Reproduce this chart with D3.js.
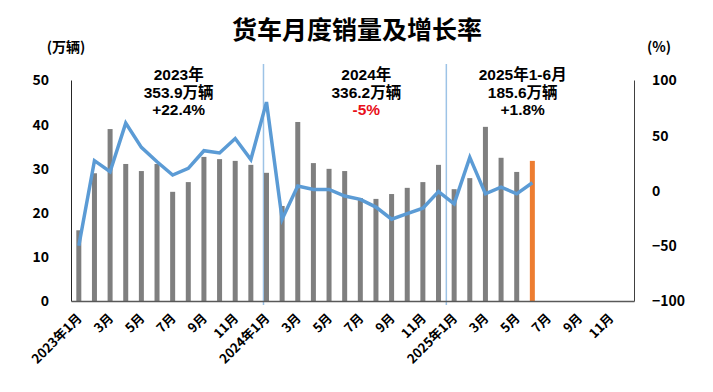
<!DOCTYPE html>
<html>
<head>
<meta charset="utf-8">
<script src="https://cdn.jsdelivr.net/npm/d3@7"></script>
<style>
  html, body { margin: 0; padding: 0; background: #fff; }
  svg text { font-family: "Noto Sans CJK SC", "Noto Sans", sans-serif; font-weight: bold; fill: #000; }
  svg text.note { font-family: "Liberation Sans", "Noto Sans CJK SC", sans-serif; }
</style>
</head>
<body>
<svg id="chart" width="713" height="392"></svg>
<script>
// ---- data ----
const categories = [
  "2023-01","2023-02","2023-03","2023-04","2023-05","2023-06","2023-07","2023-08","2023-09","2023-10","2023-11","2023-12",
  "2024-01","2024-02","2024-03","2024-04","2024-05","2024-06","2024-07","2024-08","2024-09","2024-10","2024-11","2024-12",
  "2025-01","2025-02","2025-03","2025-04","2025-05","2025-06","2025-07","2025-08","2025-09","2025-10","2025-11","2025-12"
];
const tickLabels = [
  "2023年1月","","3月","","5月","","7月","","9月","","11月","",
  "2024年1月","","3月","","5月","","7月","","9月","","11月","",
  "2025年1月","","3月","","5月","","7月","","9月","","11月",""
];
// monthly truck sales (万辆)
const salesValues = [
  16.0, 28.9, 38.9, 31.0, 29.4, 31.0, 24.7, 26.9, 32.6, 32.1, 31.7, 30.8,
  29.0, 21.5, 40.5, 31.2, 29.9, 29.4, 23.3, 23.1, 24.2, 25.6, 26.9, 30.8,
  25.3, 27.8, 39.4, 32.4, 29.2, 31.7
];
// year-on-year growth (%)
const growthValues = [
  -50, 27, 17, 61, 39, 26, 14, 20, 36, 34, 47, 28,
  80, -26, 4, 1, 1, -5, -8, -15, -26, -21, -16, -1,
  -12, 30, -3, 3, -3, 7
];
const leftTicks = [0, 10, 20, 30, 40, 50];
const rightTicks = [-100, -50, 0, 50, 100];
const highlightCategory = "2025-06";
const separatorCategories = ["2024-01", "2025-01"];
const annotations = [
  { anchor: "2023-07", lines: ["2023年", "353.9万辆", "+22.4%"], colors: ["#000", "#000", "#000"] },
  { anchor: "2024-07", lines: ["2024年", "336.2万辆", "-5%"], colors: ["#000", "#000", "#E8101A"] },
  { anchor: "2025-05", lines: ["2025年1-6月", "185.6万辆", "+1.8%"], colors: ["#000", "#000", "#000"] }
];

// ---- layout ----
const svg = d3.select("#chart");
const plot = { left: 71, right: 634, top: 80, bottom: 301 };

const x = d3.scaleBand().domain(categories).range([plot.left, plot.right]).paddingInner(0).paddingOuter(0);
const yL = d3.scaleLinear().domain([0, 50]).range([plot.bottom, plot.top]);
const yR = d3.scaleLinear().domain([-100, 100]).range([plot.bottom, plot.top]);
const barW = 5;
const cx = c => x(c) + x.bandwidth() / 2;

// title
svg.append("text").attr("x", 357).attr("y", 39).attr("text-anchor", "middle")
  .style("font-size", "25px").text("货车月度销量及增长率");

// unit labels
svg.append("text").attr("x", 66).attr("y", 52).attr("text-anchor", "middle")
  .style("font-size", "14px").text("(万辆)");
svg.append("text").attr("x", 659).attr("y", 52).attr("text-anchor", "middle")
  .style("font-size", "14px").text("(%)");

// separators
separatorCategories.forEach((c, i) => {
  const sx = i === 0 ? cx(c) - 3 : x(c);
  svg.append("line").attr("x1", sx).attr("x2", sx).attr("y1", 64).attr("y2", 305)
    .attr("stroke", "#9DC3E6").attr("stroke-width", 1.5);
});

// bars
const barData = salesValues.map((v, i) => ({ c: categories[i], v }));
svg.append("g").selectAll("rect").data(barData).join("rect")
  .attr("x", d => cx(d.c) - barW / 2)
  .attr("width", barW)
  .attr("y", d => yL(d.v))
  .attr("height", d => yL(0) - yL(d.v))
  .attr("fill", d => d.c === highlightCategory ? "#ED7D31" : "#7F7F7F");

// axes
const axisLeft = d3.axisLeft(yL).tickValues(leftTicks).tickSize(0).tickPadding(22);
const gL = svg.append("g").attr("transform", `translate(${plot.left},0)`).call(axisLeft);
gL.select(".domain").attr("stroke", "#262626").attr("stroke-width", 1);
gL.selectAll("text").style("font-size", "14px").attr("dy", "0.35em");

const axisRight = d3.axisRight(yR).tickValues(rightTicks).tickSize(0).tickPadding(18);
const gR = svg.append("g").attr("transform", `translate(${plot.right},0)`).call(axisRight);
gR.select(".domain").attr("stroke", "#404040").attr("stroke-width", 1);
gR.selectAll("text").style("font-size", "14px").attr("dy", "0.35em");

const axisBottom = d3.axisBottom(x).tickSize(0).tickFormat(() => "");
const gB = svg.append("g").attr("transform", `translate(0,${plot.bottom})`).call(axisBottom);
gB.select(".domain").attr("stroke", "#595959").attr("stroke-width", 1.5);

// x labels rotated
svg.append("g").selectAll("text").data(categories.map((c, i) => ({ c, t: tickLabels[i] })).filter(d => d.t))
  .join("text")
  .attr("transform", d => `translate(${cx(d.c) + 4},319) rotate(-45)`)
  .attr("text-anchor", "end")
  .style("font-size", "13px")
  .text(d => d.t);

// growth line
const lineData = growthValues.map((v, i) => ({ c: categories[i], v }));
const line = d3.line().x(d => cx(d.c)).y(d => yR(d.v));
svg.append("path").datum(lineData).attr("d", line)
  .attr("fill", "none").attr("stroke", "#5B9BD5").attr("stroke-width", 3.5)
  .attr("stroke-linejoin", "miter");

// annotations
annotations.forEach(a => {
  const ax = cx(a.anchor) + 6;
  a.lines.forEach((s, j) => {
    svg.append("text").attr("class", "note").attr("x", ax).attr("y", 80 + j * 17.5)
      .attr("text-anchor", "middle").style("font-size", "15.5px")
      .style("fill", a.colors[j]).text(s);
  });
});
</script>
</body>
</html>
